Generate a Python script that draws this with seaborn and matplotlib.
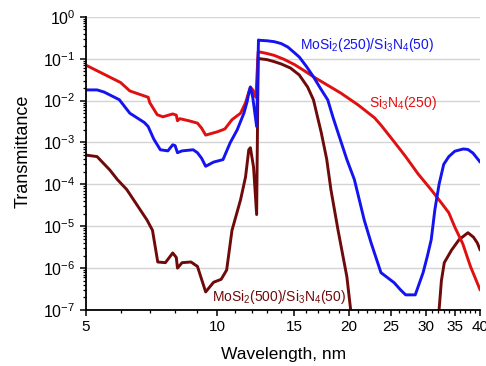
import numpy as np
import pandas as pd
import seaborn as sns
import matplotlib
matplotlib.use("Agg")
import matplotlib.pyplot as plt
from matplotlib.ticker import FixedLocator, NullFormatter, LogLocator, FixedFormatter

# ---------------- data ----------------
si3n4_wl = [5.0, 6.0, 6.3, 6.94, 7.0, 7.28, 7.5, 7.9, 8.05, 8.1, 8.2, 8.6, 9.0, 9.2, 9.4,
            10.0, 10.4, 10.8, 11.3, 11.6, 11.8, 11.9, 12.05, 12.25, 12.4, 12.5, 13.0, 13.5,
            14.2, 15.0, 15.8, 16.6, 17.8, 19.2, 21.0, 22.9, 23.7, 25.3, 27.0, 28.8, 30.9,
            32.6, 33.9, 35.0, 36.5, 38.0, 40.0]
si3n4_T = [0.07, 0.027, 0.017, 0.012, 0.0089, 0.0046, 0.0041, 0.0048, 0.0045, 0.0033, 0.0037,
           0.0033, 0.0029, 0.0022, 0.0015, 0.0018, 0.0021, 0.0035, 0.005, 0.0089, 0.016, 0.021,
           0.018, 0.012, 0.146, 0.145, 0.133, 0.12, 0.097, 0.073, 0.052, 0.037, 0.024, 0.015,
           0.0079, 0.0039, 0.0026, 0.0011, 4.6e-4, 1.8e-4, 7.4e-5, 3.6e-5, 2.1e-5, 9.5e-6,
           3.8e-6, 1.1e-6, 3.0e-7]

mosi250_wl = [5.0, 5.3, 5.5, 5.96, 6.3, 6.8, 6.94, 7.15, 7.4, 7.7, 7.9, 8.0, 8.1, 8.3, 8.8,
              9.0, 9.2, 9.4, 9.8, 10.3, 10.7, 11.1, 11.5, 11.7, 11.8, 11.9, 12.05, 12.3,
              12.42, 12.5, 13.0, 13.5, 14.0, 14.5, 15.0, 15.4, 16.0, 16.6, 17.2, 17.9, 18.4,
              18.9, 19.8, 20.6, 21.7, 22.5, 23.7, 25.4, 26.3, 27.0, 28.4, 29.6, 30.3, 30.9,
              31.5, 32.2, 33.0, 33.9, 35.0, 36.6, 37.5, 38.5, 40.0]
mosi250_T = [0.018, 0.018, 0.016, 0.0105, 0.005, 0.003, 0.0024, 0.0012, 6.7e-4, 6.3e-4, 8.8e-4,
             8.4e-4, 5.7e-4, 6.3e-4, 6.7e-4, 5.7e-4, 4.2e-4, 2.7e-4, 3.4e-4, 3.9e-4, 9.9e-4,
             0.002, 0.005, 0.0095, 0.015, 0.021, 0.012, 0.0024, 0.28, 0.275, 0.268, 0.255,
             0.23, 0.19, 0.14, 0.11, 0.065, 0.037, 0.02, 0.0104, 0.004, 0.0017, 3.9e-4, 1.3e-4,
             1.4e-5, 4e-6, 7.8e-7, 4.5e-7, 3e-7, 2.3e-7, 2.3e-7, 7.8e-7, 2e-6, 4.8e-6, 2.5e-5,
             1.0e-4, 3.0e-4, 4.6e-4, 6.2e-4, 7.0e-4, 6.8e-4, 5.6e-4, 3.4e-4]

mosi500_wl_a = [5.0, 5.3, 5.67, 5.9, 6.2, 6.9, 7.1, 7.3, 7.6, 7.9, 8.05, 8.1, 8.3, 8.7, 9.0,
                9.4, 9.8, 10.2, 10.5, 10.8, 11.3, 11.6, 11.8, 11.9, 12.1, 12.3, 12.4, 12.5,
                13.0, 13.5, 14.0, 14.7, 15.4, 16.1, 16.6, 17.3, 17.8, 18.2, 18.9, 19.8, 20.2,
                20.6]
mosi500_T_a = [5e-4, 4.6e-4, 2.2e-4, 1.3e-4, 7.5e-5, 1.4e-5, 8e-6, 1.4e-6, 1.35e-6, 2.3e-6,
               1.8e-6, 1.0e-6, 1.35e-6, 1.4e-6, 1.1e-6, 2.7e-7, 4.6e-7, 5.4e-7, 9e-7, 8e-6,
               4.3e-5, 1.5e-4, 6.7e-4, 7.5e-4, 2.6e-4, 1.9e-5, 0.105, 0.1, 0.095, 0.085, 0.075,
               0.06, 0.041, 0.021, 0.0104, 0.0017, 4e-4, 7.5e-5, 8e-6, 6.2e-7, 1e-7, 3e-8]
mosi500_wl_b = [31.8, 32.2, 32.6, 33.1, 34.4, 35.8, 37.5, 38.6, 39.4, 40.0]
mosi500_T_b = [3e-8, 1e-7, 5e-7, 1.35e-6, 2.7e-6, 4.8e-6, 7.0e-6, 5.5e-6, 4.0e-6, 2.7e-6]

x_major = [5, 10, 15, 20, 25, 30, 35, 40]
x_minor = [v for v in range(6, 40) if v not in x_major]
y_ticks = [1e-7, 1e-6, 1e-5, 1e-4, 1e-3, 1e-2, 1e-1, 1e0]
y_labels = [r"10$^{-7}$", r"10$^{-6}$", r"10$^{-5}$", r"10$^{-4}$", r"10$^{-3}$",
            r"10$^{-2}$", r"10$^{-1}$", r"10$^{0}$"]

c_red = "#e01010"
c_blue = "#1414f0"
c_dark = "#6e0a0a"

# ---------------- plot ----------------
sns.set_theme(style="white")
plt.rcParams["font.family"] = ["Liberation Sans", "DejaVu Sans"]
plt.rcParams["mathtext.default"] = "regular"

fig = plt.figure(figsize=(4.86, 3.66), dpi=100)
ax = fig.add_axes([0.177, 0.153, 0.811, 0.801])

df_red = pd.DataFrame({"wl": si3n4_wl, "T": si3n4_T})
df_blue = pd.DataFrame({"wl": mosi250_wl, "T": mosi250_T})
df_da = pd.DataFrame({"wl": mosi500_wl_a, "T": mosi500_T_a})
df_db = pd.DataFrame({"wl": mosi500_wl_b, "T": mosi500_T_b})

lw = 2.1
kw = dict(x="wl", y="T", ax=ax, lw=lw, sort=False, estimator=None,
          solid_joinstyle="round", solid_capstyle="round")
sns.lineplot(data=df_da, color=c_dark, **kw)
sns.lineplot(data=df_db, color=c_dark, **kw)
sns.lineplot(data=df_red, color=c_red, **kw)
sns.lineplot(data=df_blue, color=c_blue, **kw)

ax.set_xscale("log")
ax.set_yscale("log")
ax.set_xlim(5, 40)
ax.set_ylim(1e-7, 1)

ax.xaxis.set_major_locator(FixedLocator(x_major))
ax.xaxis.set_major_formatter(FixedFormatter([str(v) for v in x_major]))
ax.xaxis.set_minor_locator(FixedLocator(x_minor))
ax.xaxis.set_minor_formatter(NullFormatter())
ax.yaxis.set_major_locator(FixedLocator(y_ticks))
ax.yaxis.set_major_formatter(FixedFormatter(y_labels))
ax.yaxis.set_minor_locator(LogLocator(base=10, subs=np.arange(2, 10), numticks=20))
ax.yaxis.set_minor_formatter(NullFormatter())

ax.grid(axis="y", which="major", color="#d4d4d4", lw=1.0)
ax.grid(axis="x", visible=False)
for s in ["top", "right"]:
    ax.spines[s].set_visible(False)
for s in ["left", "bottom"]:
    ax.spines[s].set_color("black")
    ax.spines[s].set_linewidth(1.3)

ax.tick_params(which="major", direction="out", length=4, width=1.1, colors="black",
               labelsize=11, bottom=True, left=True)
ax.tick_params(axis="y", which="major", labelsize=11.5)
ax.tick_params(which="minor", direction="out", length=2.5, width=0.9, colors="black",
               bottom=True, left=True)

ax.set_xlabel("Wavelength, nm", fontsize=12.5, color="black")
ax.set_ylabel("Transmittance", fontsize=13, color="black")
ax.xaxis.set_label_coords(0.5, -0.125)
ax.yaxis.set_label_coords(-0.139, 0.543)

ax.text(15.5, 0.21, r"MoSi$_2$(250)/Si$_3$N$_4$(50)", color=c_blue, fontsize=10,
        ha="left", va="center")
ax.text(22.2, 0.0088, r"Si$_3$N$_4$(250)", color=c_red, fontsize=10, ha="left", va="center")
ax.text(9.7, 2.0e-7, r"MoSi$_2$(500)/Si$_3$N$_4$(50)", color=c_dark, fontsize=10,
        ha="left", va="center")

fig.savefig("out.png", dpi=100)
